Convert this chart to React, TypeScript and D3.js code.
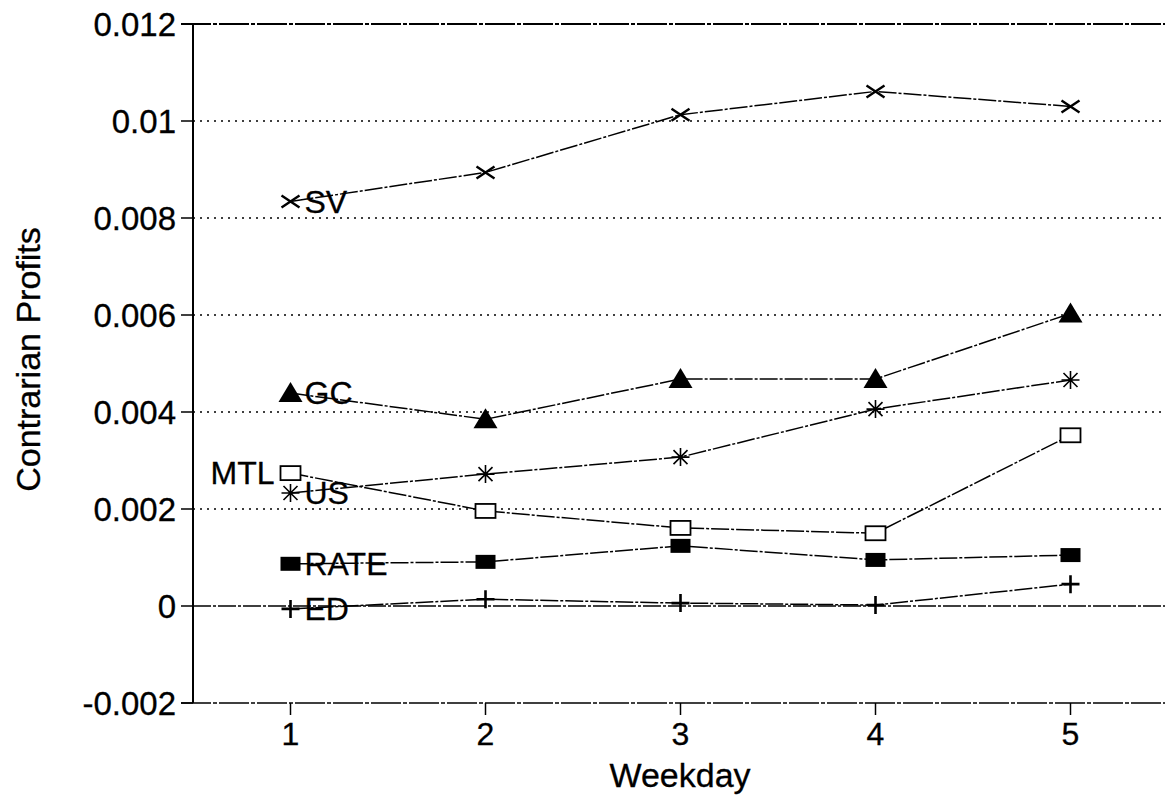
import React from "react";
import * as d3 from "d3";

// weekday on x, contrarian profit on y
const weekdays = [1, 2, 3, 4, 5];
const yTicks = [-0.002, 0, 0.002, 0.004, 0.006, 0.008, 0.01, 0.012];
const yTickLabels = ["-0.002", "0", "0.002", "0.004", "0.006", "0.008", "0.01", "0.012"];

const svValues = [0.00834, 0.00894, 0.01013, 0.01061, 0.0103];
const gcValues = [0.00439, 0.00385, 0.00468, 0.00468, 0.00603];
const usValues = [0.00233, 0.00272, 0.00307, 0.00406, 0.00466];
const mtlValues = [0.00274, 0.00196, 0.00161, 0.0015, 0.00352];
const rateValues = [0.00087, 0.00091, 0.00124, 0.00095, 0.00105];
const edValues = [-0.00006, 0.00014, 0.00006, 0.00002, 0.00045];

const seriesNames = ["SV", "GC", "US", "MTL", "RATE", "ED"];
const seriesValues = [svValues, gcValues, usValues, mtlValues, rateValues, edValues];
const seriesMarkers = ["times", "triangle", "asterisk", "square", "filledSquare", "plus"];

const W = 1165;
const H = 797;
const FONT = "'Liberation Sans', Arial, Helvetica, sans-serif";

function Marker({ kind, x, y }: { kind: string; x: number; y: number }) {
  const t = `translate(${x},${y})`;
  if (kind === "times") {
    return <path transform={t} d="M-9,-6L9,6M-9,6L9,-6" stroke="#000" strokeWidth={2.4} fill="none" />;
  }
  if (kind === "triangle") {
    return <path transform={t} d="M0,-11L12,9L-12,9Z" fill="#000" />;
  }
  if (kind === "asterisk") {
    return (
      <path
        transform={t}
        d="M-9,0L9,0M0,-9L0,9M-7,-7L7,7M-7,7L7,-7"
        stroke="#000"
        strokeWidth={1.6}
        fill="none"
      />
    );
  }
  if (kind === "square") {
    return <rect transform={t} x={-10} y={-7} width={20} height={14} fill="#fff" stroke="#000" strokeWidth={1.8} />;
  }
  if (kind === "filledSquare") {
    return <rect transform={t} x={-10} y={-7} width={20} height={14} fill="#000" />;
  }
  return <path transform={t} d="M-9,0L9,0M0,-9L0,9" stroke="#000" strokeWidth={2.6} fill="none" />;
}

export default function App() {
  const x = d3.scaleLinear().domain([0.5, 5.5]).range([193, 1168]);
  const y = d3.scaleLinear().domain([-0.002, 0.012]).range([703, 24]);

  const line = d3
    .line<number>()
    .x((_, i) => x(weekdays[i]))
    .y((d) => y(d));

  const xLeft = x(0.5);

  return (
    <svg
      width={W}
      height={H}
      style={{ position: "absolute", left: 0, top: 0, background: "#fff" }}
      fontFamily={FONT}
    >
      <rect width={W} height={H} fill="#fff" />

      {/* dotted gridlines */}
      {yTicks
        .filter((v) => v > 0 && v < 0.012)
        .map((v) => (
          <line
            key={"g" + v}
            x1={xLeft}
            x2={W}
            y1={y(v)}
            y2={y(v)}
            stroke="#000"
            strokeWidth={1.4}
            strokeDasharray="2,5"
          />
        ))}

      {/* zero line */}
      <line x1={xLeft} x2={W} y1={y(0)} y2={y(0)} stroke="#000" strokeWidth={1.5} strokeDasharray="18,2,3,2" />

      {/* frame top and bottom */}
      <line x1={xLeft - 12} x2={W} y1={y(0.012)} y2={y(0.012)} stroke="#000" strokeWidth={1.8} strokeDasharray="30,2,4,2" />
      <line x1={xLeft - 12} x2={W} y1={y(-0.002)} y2={y(-0.002)} stroke="#000" strokeWidth={1.6} strokeDasharray="30,2,4,2" />

      {/* y axis */}
      <line x1={xLeft} x2={xLeft} y1={y(0.012)} y2={y(-0.002)} stroke="#000" strokeWidth={2} />
      {yTicks.map((v, i) => (
        <g key={"yt" + v}>
          <line x1={xLeft - 12} x2={xLeft} y1={y(v)} y2={y(v)} stroke="#000" strokeWidth={1.5} />
          <text
            x={xLeft - 17}
            y={y(v)}
            dy="0.36em"
            textAnchor="end"
            fontSize={33}
            stroke="#000"
            strokeWidth={0.3}
          >
            {yTickLabels[i]}
          </text>
        </g>
      ))}

      {/* x axis ticks */}
      {weekdays.map((d) => (
        <g key={"xt" + d}>
          <line x1={x(d)} x2={x(d)} y1={y(-0.002)} y2={y(-0.002) + 12} stroke="#000" strokeWidth={1.5} />
          <text x={x(d)} y={745} textAnchor="middle" fontSize={32} stroke="#000" strokeWidth={0.3}>
            {d}
          </text>
        </g>
      ))}

      {/* axis titles */}
      <text x={680} y={787} textAnchor="middle" fontSize={34} stroke="#000" strokeWidth={0.3}>
        Weekday
      </text>
      <text
        transform={`translate(40,${(y(0.0078) + y(0.0022)) / 2 - 4}) rotate(-90)`}
        textAnchor="middle"
        fontSize={34}
        stroke="#000"
        strokeWidth={0.3}
      >
        Contrarian Profits
      </text>

      {/* series */}
      {seriesValues.map((vals, si) => (
        <g key={seriesNames[si]}>
          <path
            d={line(vals) || ""}
            fill="none"
            stroke="#000"
            strokeWidth={1.5}
            strokeDasharray="18,2,3,2"
          />
          {vals.map((v, i) => (
            <Marker key={i} kind={seriesMarkers[si]} x={x(weekdays[i])} y={y(v)} />
          ))}
          <text
            x={seriesNames[si] === "MTL" ? x(1) - 16 : x(1) + 14}
            y={y(vals[0]) + 11}
            textAnchor={seriesNames[si] === "MTL" ? "end" : "start"}
            fontSize={32}
            stroke="#000"
            strokeWidth={0.3}
          >
            {seriesNames[si]}
          </text>
        </g>
      ))}
    </svg>
  );
}
